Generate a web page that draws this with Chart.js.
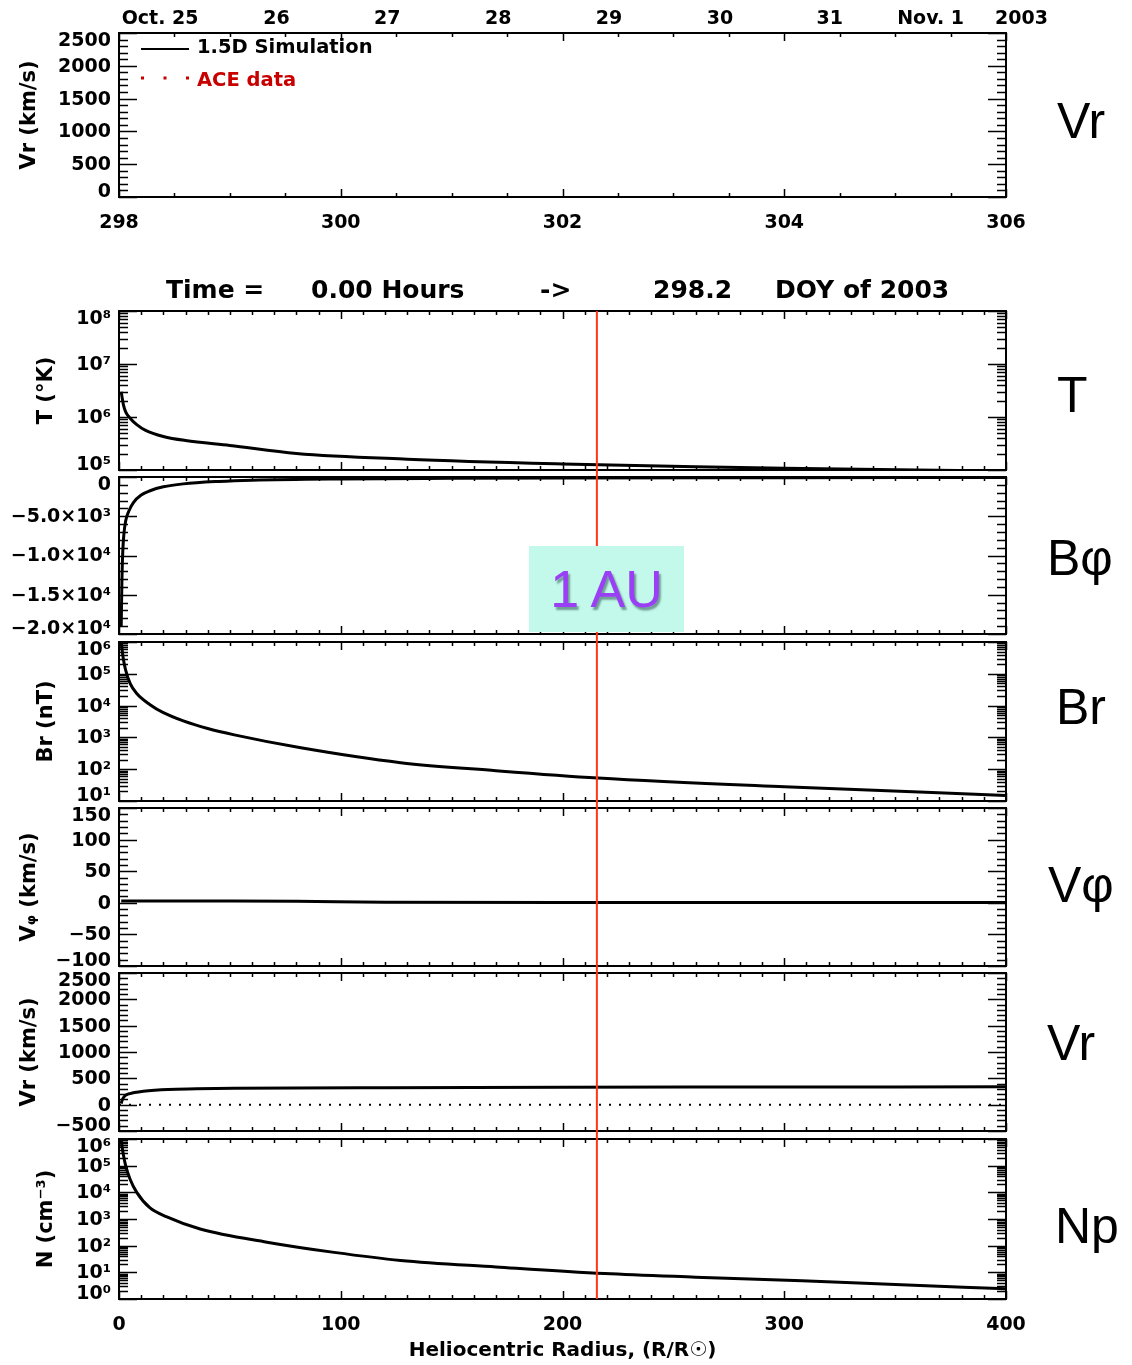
<!DOCTYPE html>
<html>
<head>
<meta charset="utf-8">
<title>1.5D simulation at 298.2 DOY 2003</title>
<script src="https://cdn.jsdelivr.net/npm/chart.js@4.4.1/dist/chart.umd.min.js"></script>
<style>
  body { margin: 0; background: #fff; }
  #page { position: relative; width: 1132px; height: 1365px; overflow: hidden; }
  canvas { position: absolute; left: 0; }
  .side { position: absolute; font-family: 'Liberation Sans', Arial, sans-serif; font-size: 50px; line-height: 1; color: #000; }
  .ttl { position: absolute; top: 276px; font: bold 25px 'DejaVu Sans', sans-serif; white-space: pre; line-height: 27px; }
  #au {
    position: absolute; left: 529px; top: 546px; width: 155px; height: 86px; z-index: 5;
    background: #c2f9ea; color: #9a3ff6; display: flex; align-items: center; justify-content: center;
    font: 52px 'Liberation Sans', Arial, sans-serif; text-shadow: 2px 3px 2px #6f9c94;
  }
</style>
</head>
<body>
<div id="page">
  <canvas id="vrTop" width="1132" height="250" style="top:0px"></canvas>
  <canvas id="tChart" width="1132" height="224" style="top:250px"></canvas>
  <canvas id="bphiChart" width="1132" height="164" style="top:474px"></canvas>
  <canvas id="brChart" width="1132" height="167" style="top:638px"></canvas>
  <canvas id="vphiChart" width="1132" height="165" style="top:805px"></canvas>
  <canvas id="vrChart" width="1132" height="165" style="top:970px"></canvas>
  <canvas id="npChart" width="1132" height="230" style="top:1135px"></canvas>

  <span class="ttl" style="left:166px">Time =</span>
  <span class="ttl" style="left:311px">0.00 Hours</span>
  <span class="ttl" style="left:540px">-&gt;</span>
  <span class="ttl" style="left:653px">298.2</span>
  <span class="ttl" style="left:775px">DOY of 2003</span>

  <div class="side" style="left:1057px;top:96px">Vr</div>
  <div class="side" style="left:1057px;top:370px">T</div>
  <div class="side" style="left:1047px;top:533px">Bφ</div>
  <div class="side" style="left:1056px;top:682px">Br</div>
  <div class="side" style="left:1048px;top:860px">Vφ</div>
  <div class="side" style="left:1047px;top:1018px">Vr</div>
  <div class="side" style="left:1055px;top:1201px">Np</div>

  <div id="au">1 AU</div>
</div>

<script>
// time axis of the ACE comparison panel (day of year 2003)
const DOY_MIN = 298;
const DOY_MAX = 306;
const DOY_TICKS = [298, 300, 302, 304, 306];
const DATE_LABELS = ['Oct. 25', '26', '27', '28', '29', '30', '31', 'Nov. 1', '2003'];
const DATE_POS = [298.37, 299.42, 300.42, 301.42, 302.42, 303.42, 304.41, 305.32, 306.14];
const SIM_VR = [];
const ACE_VR = [];
const VR_TOP_TICKS = [0, 500, 1000, 1500, 2000, 2500];

// radial profiles, heliocentric radius in solar radii
const R_TICKS = [0, 100, 200, 300, 400];
const AU_R = 215.5;

const R_T = [1, 1.5, 2, 3, 5, 8, 12, 20, 30, 50, 80, 130, 200, 260, 300, 360, 400];
const T_K = [3.0e6, 2.2e6, 1.7e6, 1.25e6, 9.5e5, 7.2e5, 5.6e5, 4.3e5, 3.6e5, 2.9e5, 2.05e5, 1.6e5, 1.3e5, 1.15e5, 1.08e5, 1.0e5, 0.96e5];
const T_TICKS = [1e5, 1e6, 1e7, 1e8];
const T_LABELS = ['10⁵', '10⁶', '10⁷', '10⁸'];

const R_BPHI = [1, 1.3, 1.7, 2.2, 3, 4.5, 6.5, 10, 14, 20, 29, 45, 60, 100, 150, 200, 300, 400];
const BPHI = [-19000, -13500, -9500, -7300, -5600, -4300, -3250, -2300, -1750, -1250, -875, -560, -400, -240, -170, -130, -90, -70];
const BPHI_TICKS = [-20000, -15000, -10000, -5000, 0];
const BPHI_LABELS = ['−2.0×10⁴', '−1.5×10⁴', '−1.0×10⁴', '−5.0×10³', '0'];

const R_BR = [1, 1.5, 2, 3, 5, 8, 14, 20, 29, 40, 52, 82, 127, 170, 216, 300, 400];
const BR = [1e6, 5e5, 2.8e5, 1.3e5, 5e4, 2.4e4, 1.07e4, 6e3, 3.3e3, 1.9e3, 1.2e3, 470, 160, 90, 53, 28, 15];
const BR_TICKS = [1e1, 1e2, 1e3, 1e4, 1e5, 1e6];
const BR_LABELS = ['10¹', '10²', '10³', '10⁴', '10⁵', '10⁶'];

const R_VPHI = [1, 5, 20, 50, 80, 120, 200, 250, 300, 400];
const VPHI = [3, 3, 3, 3, 2.5, 1, 0.5, 0.5, 0.5, 0.5];
const VPHI_TICKS = [-100, -50, 0, 50, 100, 150];

const R_VR = [1, 1.3, 1.8, 2.5, 3.5, 5, 7, 11, 16, 22, 35, 52, 80, 120, 200, 300, 400];
const VR = [20, 70, 120, 160, 190, 210, 230, 255, 275, 290, 300, 310, 318, 323, 330, 335, 340];
const R_ZERO = [0, 400];
const VR_ZERO = [0, 0];
const VR_TICKS = [-500, 0, 500, 1000, 1500, 2000, 2500];

const R_N = [1, 1.5, 2, 3, 5, 8, 14, 21.6, 36.6, 66.7, 97, 127, 170, 219, 260, 308, 350, 400];
const NP = [1e6, 4.5e5, 2.5e5, 1e5, 3.1e4, 1e4, 2.6e3, 1.2e3, 420, 135, 56, 28, 16, 9, 6.6, 4.8, 3.5, 2.4];
const N_TICKS = [1e0, 1e1, 1e2, 1e3, 1e4, 1e5, 1e6];
const N_LABELS = ['10⁰', '10¹', '10²', '10³', '10⁴', '10⁵', '10⁶'];

const PLOT_LEFT = 119;
const PAD_RIGHT = 126;
const LABEL_FONT = 'bold 19px "DejaVu Sans"';
const AU_COLOR = '#ff3418';

Chart.defaults.font.family = '"DejaVu Sans", sans-serif';
Chart.defaults.color = '#000';

function stepTicks(min, max, step) {
  const out = [];
  const n = Math.round((max - min) / step);
  for (let i = 0; i <= n; i++) out.push(min + i * step);
  return out;
}

function logMinorTicks(min, max) {
  const out = [];
  for (let d = min; d < max * 0.999; d *= 10) {
    for (let k = 2; k < 10; k++) out.push(d * k);
  }
  return out;
}

// IDL style frame: inward ticks on all four sides, y labels pulled inside at the ends
const idlAxes = {
  id: 'idlAxes',
  afterDatasetsDraw(chart, args, o) {
    const { ctx, chartArea: a } = chart;
    const xs = chart.scales.x;
    const ys = chart.scales.y;
    ctx.save();
    ctx.strokeStyle = '#000';
    ctx.lineWidth = 1.5;
    ctx.beginPath();
    const xTick = (v, len) => {
      const px = Math.round(xs.getPixelForValue(v)) + 0.5;
      ctx.moveTo(px, a.top); ctx.lineTo(px, a.top + len);
      ctx.moveTo(px, a.bottom); ctx.lineTo(px, a.bottom - len);
    };
    const yTick = (v, len) => {
      const py = Math.round(ys.getPixelForValue(v)) + 0.5;
      ctx.moveTo(a.left, py); ctx.lineTo(a.left + len, py);
      ctx.moveTo(a.right, py); ctx.lineTo(a.right - len, py);
    };
    o.xMinor.forEach((v) => xTick(v, 4));
    o.xMajor.forEach((v) => xTick(v, 8));
    o.yMinor.forEach((v) => yTick(v, 9));
    o.yMajor.forEach((v) => yTick(v, 18));
    ctx.stroke();

    ctx.lineWidth = 2;
    ctx.strokeRect(a.left, a.top, a.right - a.left, a.bottom - a.top);

    ctx.fillStyle = '#000';
    ctx.font = LABEL_FONT;
    ctx.textAlign = 'right';
    ctx.textBaseline = 'middle';
    o.yMajor.forEach((v, i) => {
      let py = ys.getPixelForValue(v);
      py = Math.min(Math.max(py, a.top + 7), a.bottom - 6);
      ctx.fillText(o.yLabels[i], a.left - 8, py + 1);
    });

    if (o.au) {
      const px = xs.getPixelForValue(AU_R);
      ctx.strokeStyle = AU_COLOR;
      ctx.lineWidth = 2;
      ctx.beginPath();
      ctx.moveTo(px, o.au.fromTop ? a.top : 0);
      ctx.lineTo(px, o.au.toBottom ? a.bottom : chart.height);
      ctx.stroke();
    }
    ctx.restore();
  },
};

const legendInside = {
  id: 'legendInside',
  afterDraw(chart) {
    const { ctx, chartArea: a } = chart;
    ctx.save();
    ctx.font = 'bold 19.5px "DejaVu Sans"';
    ctx.textAlign = 'left';
    ctx.textBaseline = 'middle';
    chart.data.datasets.forEach((ds, i) => {
      const y = a.top + 16 + i * 29;
      ctx.strokeStyle = ds.borderColor;
      ctx.lineWidth = i === 0 ? 2 : 3;
      ctx.setLineDash(ds.borderDash || []);
      ctx.beginPath();
      ctx.moveTo(a.left + 22, y);
      ctx.lineTo(a.left + 70, y);
      ctx.stroke();
      ctx.setLineDash([]);
      ctx.fillStyle = ds.borderColor;
      ctx.fillText(ds.label, a.left + 78, y + (i === 0 ? -1 : 3));
    });
    ctx.restore();
  },
};

function fixedWidth(scale) { scale.width = PLOT_LEFT; }

function yScale(p) {
  return {
    type: p.log ? 'logarithmic' : 'linear',
    min: p.min,
    max: p.max,
    afterFit: fixedWidth,
    ticks: { display: false },
    grid: { display: false, drawTicks: false },
    border: { display: false },
    title: {
      display: !!p.title,
      text: p.title || '',
      font: { size: 21, weight: 'bold' },
      padding: { top: (p.titlePad || 18) - 1, bottom: 0 },
    },
  };
}

function series(r, v, extra) {
  return Object.assign({
    data: r.map((x, i) => ({ x, y: v[i] })),
    borderColor: '#000',
    borderWidth: 3,
    pointRadius: 0,
    cubicInterpolationMode: 'monotone',
    fill: false,
  }, extra || {});
}

function baseOptions(padding, scales, axes) {
  return {
    responsive: false,
    animation: false,
    devicePixelRatio: 1,
    events: [],
    layout: { padding },
    plugins: { legend: { display: false }, tooltip: { enabled: false }, idlAxes: axes },
    scales,
  };
}

const R_MINOR = stepTicks(0, 400, 10);
const R_MAJOR = stepTicks(0, 400, 100);

// top panel: solar wind speed at Earth against day of year
new Chart(document.getElementById('vrTop'), {
  type: 'line',
  data: {
    datasets: [
      series([], SIM_VR, { label: '1.5D Simulation', borderWidth: 2 }),
      series([], ACE_VR, { label: 'ACE data', borderColor: '#c80000', borderDash: [3, 19.5] }),
    ],
  },
  options: baseOptions(
    { left: 0, right: PAD_RIGHT, top: 0, bottom: 0 },
    {
      x: {
        type: 'linear', position: 'bottom', min: DOY_MIN, max: DOY_MAX,
        afterBuildTicks: (s) => { s.ticks = DOY_TICKS.map((value) => ({ value })); },
        afterFit: (s) => { s.height = 53; },
        ticks: { font: { size: 19, weight: 'bold' }, padding: 15, maxRotation: 0, autoSkip: false },
        grid: { display: false, drawTicks: false },
        border: { display: false },
      },
      x2: {
        type: 'linear', position: 'top', min: DOY_MIN, max: DOY_MAX,
        afterBuildTicks: (s) => { s.ticks = DATE_POS.map((value) => ({ value })); },
        afterFit: (s) => { s.height = 33; },
        ticks: {
          font: { size: 19, weight: 'bold' }, padding: 3, maxRotation: 0, autoSkip: false,
          callback: (v, i) => DATE_LABELS[i],
        },
        grid: { display: false, drawTicks: false },
        border: { display: false },
      },
      y: yScale({ min: 0, max: 2500, title: 'Vr (km/s)', titlePad: 18 }),
    },
    {
      xMinor: stepTicks(DOY_MIN, DOY_MAX, 0.5), xMajor: DOY_TICKS,
      yMinor: stepTicks(0, 2500, 100), yMajor: VR_TOP_TICKS, yLabels: VR_TOP_TICKS.map(String),
    },
  ),
  plugins: [idlAxes, legendInside],
});

function radialPanel(id, cfg) {
  const x = {
    type: 'linear', min: 0, max: 400, display: !!cfg.showX,
    grid: { display: false, drawTicks: false },
    border: { display: false },
  };
  if (cfg.showX) {
    Object.assign(x, {
      afterBuildTicks: (s) => { s.ticks = R_TICKS.map((value) => ({ value })); },
      afterFit: (s) => { s.height = 66; },
      ticks: { font: { size: 19, weight: 'bold' }, padding: 15, maxRotation: 0, autoSkip: false },
      title: {
        display: true,
        text: 'Heliocentric Radius, (R/R☉)',
        font: { size: 20, weight: 'bold' },
        padding: { top: 0, bottom: 2 },
      },
    });
  }
  const axes = {
    xMinor: R_MINOR, xMajor: R_MAJOR,
    yMinor: cfg.yMinor, yMajor: cfg.yMajor, yLabels: cfg.yLabels,
    au: cfg.au,
  };
  return new Chart(document.getElementById(id), {
    type: 'line',
    data: { datasets: cfg.datasets },
    options: baseOptions({ left: 0, right: PAD_RIGHT, top: cfg.padTop, bottom: cfg.padBottom }, { x, y: yScale(cfg.y) }, axes),
    plugins: [idlAxes],
  });
}

radialPanel('tChart', {
  padTop: 61, padBottom: 4,
  y: { log: true, min: 1e5, max: 1e8, title: 'T (°K)', titlePad: 35 },
  yMajor: T_TICKS, yLabels: T_LABELS, yMinor: logMinorTicks(1e5, 1e8),
  au: { fromTop: true },
  datasets: [series(R_T, T_K)],
});

radialPanel('bphiChart', {
  padTop: 3, padBottom: 4,
  y: { min: -20000, max: 0 },
  yMajor: BPHI_TICKS, yLabels: BPHI_LABELS, yMinor: stepTicks(-20000, 0, 1000),
  au: {},
  datasets: [series(R_BPHI, BPHI)],
});

radialPanel('brChart', {
  padTop: 4, padBottom: 4,
  y: { log: true, min: 1e1, max: 1e6, title: 'Br (nT)', titlePad: 35 },
  yMajor: BR_TICKS, yLabels: BR_LABELS, yMinor: logMinorTicks(1e1, 1e6),
  au: {},
  datasets: [series(R_BR, BR)],
});

radialPanel('vphiChart', {
  padTop: 3, padBottom: 4,
  y: { min: -100, max: 150, title: 'Vᵩ (km/s)', titlePad: 18 },
  yMajor: VPHI_TICKS, yLabels: VPHI_TICKS.map((v) => (v < 0 ? '−' + (-v) : String(v))), yMinor: stepTicks(-100, 150, 10),
  au: {},
  datasets: [series(R_VPHI, VPHI)],
});

radialPanel('vrChart', {
  padTop: 3, padBottom: 4,
  y: { min: -500, max: 2500, title: 'Vr (km/s)', titlePad: 18 },
  yMajor: VR_TICKS, yLabels: VR_TICKS.map((v) => (v < 0 ? '−' + (-v) : String(v))), yMinor: stepTicks(-500, 2500, 100),
  au: {},
  datasets: [
    series(R_ZERO, VR_ZERO, { borderWidth: 2, borderDash: [2, 8], cubicInterpolationMode: 'default' }),
    series(R_VR, VR),
  ],
});

radialPanel('npChart', {
  padTop: 4, padBottom: 0, showX: true,
  y: { log: true, min: 1, max: 1e6, title: 'N (cm⁻³)', titlePad: 35 },
  yMajor: N_TICKS, yLabels: N_LABELS, yMinor: logMinorTicks(1, 1e6),
  au: { toBottom: true },
  datasets: [series(R_N, NP)],
});
</script>
</body>
</html>
